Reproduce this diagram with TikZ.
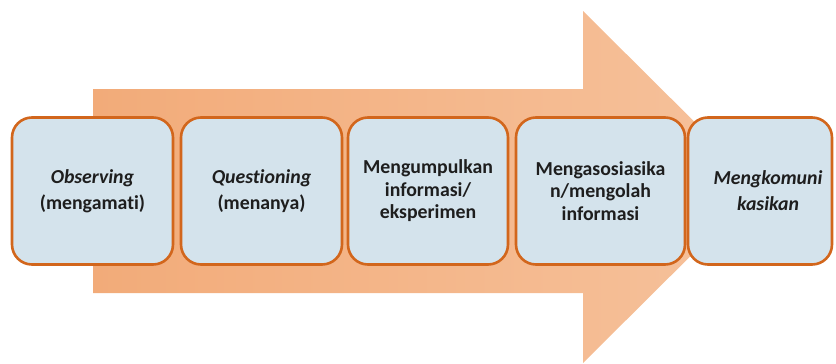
\documentclass[tikz,border=0pt]{standalone}
\usepackage{fontspec}
\setmainfont{Carlito}[Ligatures={NoCommon,NoRequired}]
\definecolor{arrowdark}{HTML}{F2AB79}
\definecolor{arrowlight}{HTML}{F6C29C}
\definecolor{boxfill}{HTML}{D4E3EC}
\definecolor{boxline}{HTML}{D2661C}
\definecolor{txt}{HTML}{1E1E1E}
\begin{document}
\begin{tikzpicture}[x=1pt,y=-1pt,
  stagebox/.style={draw=boxline, line width=2.6pt, fill=boxfill,
    rounded corners=20pt, minimum height=147pt, inner sep=0pt,
    align=center, text=txt, font=\bfseries\fontsize{19.8}{26}\selectfont},
  dense/.style={font=\bfseries\fontsize{19.8}{22.5}\selectfont}]
\useasboundingbox (0,0) rectangle (836,364);
% the large process arrow behind the stages
\shade[left color=arrowdark, right color=arrowlight]
  (93,89) -- (583,89) -- (583,11) -- (760,187) -- (583,363)
  -- (583,293) -- (93,293) -- cycle;
% stages
\node[stagebox, minimum width=161pt] (s1) at (92.5,191)
  {\textit{Observing}\\(mengamati)};
\node[stagebox, minimum width=161pt] (s2) at (261.5,191)
  {\textit{Questioning}\\(menanya)};
\node[stagebox, dense, minimum width=160pt] (s3) at (428,191)
  {Mengumpulkan\\informasi/\\eksperimen};
\node[stagebox, dense, minimum width=169pt] (s4) at (600.5,191)
  {Mengasosiasika\\n/mengolah\\informasi};
\node[stagebox, minimum width=144pt] (s5) at (760,191)
  {\hspace*{16pt}\textit{Mengkomuni}\\\hspace*{16pt}\textit{kasikan}};
\end{tikzpicture}
\end{document}
